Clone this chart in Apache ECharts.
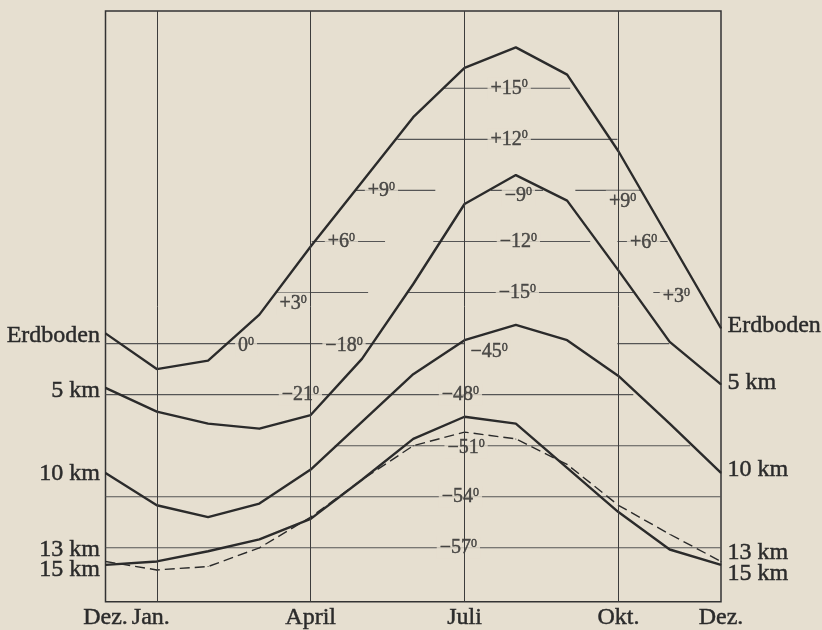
<!DOCTYPE html>
<html>
<head>
<meta charset="utf-8">
<script src="https://cdn.jsdelivr.net/npm/echarts@6/dist/echarts.min.js"></script>
<style>
  html, body { margin: 0; padding: 0; background: #e6dfd0; }
  #chart { width: 822px; height: 630px; }
</style>
</head>
<body>
<div id="chart"></div>
<script>
// Month positions along the year, December to December
const months = ['Dez.', 'Jan.', 'Feb.', 'März', 'April', 'Mai', 'Juni', 'Juli', 'Aug.', 'Sept.', 'Okt.', 'Nov.', 'Dez.'];
const labelledMonths = [0, 1, 4, 7, 10, 12];
const gridMonths = [1, 4, 7, 10];

// Monthly mean temperatures (°C) at each height
const erdboden = [0.6, -1.5, -1.0, 1.7, 5.7, 9.5, 13.3, 16.2, 17.4, 15.8, 11.3, 6.1, 0.9];
const km5 = [-20.6, -22.0, -22.7, -23.0, -22.2, -18.9, -14.5, -9.8, -8.1, -9.6, -13.7, -17.9, -20.4];
const km10 = [-52.6, -54.5, -55.2, -54.4, -52.4, -49.6, -46.8, -44.8, -43.9, -44.8, -46.9, -49.7, -52.6];
const km13 = [-57.8, -58.3, -58.1, -57.0, -55.2, -53.0, -51.0, -50.2, -50.6, -52.1, -54.5, -56.2, -57.8];
const km15 = [-58.0, -57.8, -57.2, -56.5, -55.3, -53.0, -50.6, -49.3, -49.7, -52.3, -54.9, -57.1, -58.0];

// Isotherm segments: [temperature, from month, to month]
const isoGround = [[15, 6.59, 9.06], [12, 5.69, 9.98], [9, 4.87, 6.43], [9, 9.16, 10.43], [6, 4.02, 5.45], [6, 9.98, 10.96], [3, 3.31, 5.12], [3, 10.68, 11.4], [0, 0, 6.99]];
const iso5 = [[-9, 7.51, 8.53], [-12, 6.39, 9.45], [-15, 5.88, 10.29], [-18, 9.98, 10.99], [-21, 0, 10.29]];
const iso10 = [[-51, 4.47, 11.4], [-54, 0, 12], [-57, 0, 12]];

// Isotherm labels: [temperature, month]
const tagGround = [[15, 7.87], [12, 7.87], [9, 5.38], [9, 10.08], [6, 4.6], [6, 10.49], [3, 3.66], [3, 11.13], [0, 2.74]];
const tag5 = [[-9, 8.05], [-12, 8.05], [-15, 8.03], [-18, 4.65], [-21, 3.8]];
const tag10 = [[-45, 7.48], [-48, 6.92], [-51, 7.03], [-54, 6.92], [-57, 6.88]];

// Curves: name, values, axis
const curves = [
  { name: 'Erdboden', values: erdboden, axis: 0 },
  { name: '5 km', values: km5, axis: 1 },
  { name: '10 km', values: km10, axis: 2 },
  { name: '13 km', values: km13, axis: 2, dashed: true },
  { name: '15 km', values: km15, axis: 2 }
];

const PAPER = '#e6dfd0';
const INK = '#2b2b2b';
const FONT = 'Liberation Serif';
// slightly heavier print-like strokes for all lettering
const INKED = { textBorderColor: INK, textBorderWidth: 0.45 };

// vertical nudges for a few isotherm labels (pixels)
const tagNudge = { '0:9:10.08': 11, '0:3:3.66': 11, '0:3:11.13': 4, '0:0:2.74': 2, '0:6:10.49': 1,
  '1:-9:8.05': 5, '1:-18:4.65': 2, '2:-45:7.48': 8, '2:-51:7.03': 2 };
// name-label nudges at the left and right ends
const endNudge = {
  'Erdboden': [2, -3], '5 km': [2.5, -1.5], '10 km': [1, -3], '13 km': [-12, -9], '15 km': [4.5, 9]
};

function tagText(t) {
  const s = t > 0 ? '+' + t : (t < 0 ? '\u2212' + Math.abs(t) : '0');
  return '{n|' + s + '}{s|0}';
}

const series = [];

// vertical month lines
series.push({
  type: 'line', data: [], silent: true,
  markLine: {
    silent: true, symbol: 'none', animation: false,
    label: { show: false },
    lineStyle: { color: '#3c3c3c', width: 1, type: 'solid' },
    data: gridMonths.map(m => ({ xAxis: m }))
  }
});

// isotherm segments
[[isoGround, 0], [iso5, 1], [iso10, 2]].forEach(([list, axis]) => {
  list.forEach(([t, a, b]) => {
    series.push({
      type: 'line', yAxisIndex: axis, silent: true, z: 1,
      symbol: 'none',
      data: [[a, t], [b, t]],
      lineStyle: { color: '#555', width: 1.1 }
    });
  });
});

// isotherm labels
[[tagGround, 0], [tag5, 1], [tag10, 2]].forEach(([list, axis]) => {
  series.push({
    type: 'scatter', yAxisIndex: axis, silent: true, z: 2,
    symbolSize: 1,
    itemStyle: { color: 'rgba(0,0,0,0)' },
    data: list.map(([t, m]) => ({ value: [m, t] })),
    labelLayout: p => {
      const [t, m] = list[p.dataIndex];
      return { dy: tagNudge[axis + ':' + t + ':' + m] || 0 };
    },
    label: {
      show: true, position: 'inside',
      formatter: p => tagText(p.value[1]),
      backgroundColor: PAPER, padding: [1, 3],
      rich: {
        n: Object.assign({ fontFamily: FONT, fontSize: 20, color: INK }, INKED),
        s: Object.assign({ fontFamily: FONT, fontSize: 12, color: INK, verticalAlign: 'top', padding: [0, 0, 6, 0] }, INKED)
      }
    }
  });
});

// temperature curves
curves.forEach(c => {
  const last = c.values.length - 1;
  const nudge = endNudge[c.name];
  series.push({
    type: 'line', name: c.name, yAxisIndex: c.axis, silent: true, z: 3,
    symbol: 'circle', symbolSize: 1, showSymbol: true,
    lineStyle: { color: INK, width: c.dashed ? 1.4 : 2.4, type: c.dashed ? [10, 5] : 'solid' },
    itemStyle: { color: INK },
    data: c.values.map((v, i) => {
      const item = { value: [i, v] };
      if (i === 0) item.label = { show: true, position: 'left', distance: 5 };
      if (i === last) item.label = { show: true, position: 'right', distance: 6 };
      return item;
    }),
    label: Object.assign({
      show: false, formatter: c.name,
      fontFamily: FONT, fontSize: 24, color: INK
    }, INKED),
    labelLayout: p => ({ dy: p.dataIndex === 0 ? nudge[0] : nudge[1], hideOverlap: false })
  });
});

const chart = echarts.init(document.getElementById('chart'), null, { renderer: 'canvas' });
chart.setOption({
  animation: false,
  backgroundColor: PAPER,
  grid: {
    left: 105.5, right: 101, top: 11, bottom: 27.5,
    show: true, borderColor: '#333', borderWidth: 1.5, backgroundColor: 'transparent'
  },
  xAxis: {
    type: 'value', min: 0, max: 12, interval: 1,
    axisLine: { show: false }, axisTick: { show: false }, splitLine: { show: false },
    axisLabel: Object.assign({
      margin: 4, fontFamily: FONT, fontSize: 24, color: INK,
      showMinLabel: true, showMaxLabel: true,
      formatter: v => {
        if (labelledMonths.indexOf(v) < 0) return '';
        return v === 1 ? '{j|' + months[v] + '}' : months[v];
      },
      rich: { j: Object.assign({ fontFamily: FONT, fontSize: 24, color: INK, padding: [0, 12, 0, 0] }, INKED) }
    }, INKED)
  },
  yAxis: [
    { type: 'value', min: -15.17, max: 19.54, show: false, splitLine: { show: false } },
    { type: 'value', min: -33.17, max: 1.54, show: false, splitLine: { show: false } },
    { type: 'value', min: -60.17, max: -25.46, show: false, splitLine: { show: false } }
  ],
  series: series
});
</script>
</body>
</html>
